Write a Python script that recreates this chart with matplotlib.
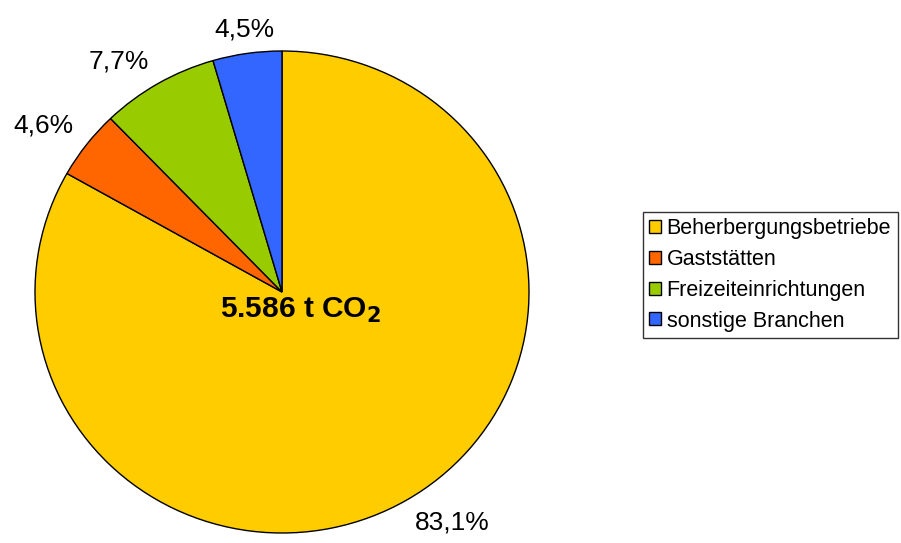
import numpy as np
import matplotlib
matplotlib.use("Agg")
import matplotlib.pyplot as plt

plt.rcParams['font.family'] = ['Liberation Sans', 'DejaVu Sans']

branchen = ["Beherbergungsbetriebe", "Gaststätten", "Freizeiteinrichtungen", "sonstige Branchen"]
anteile = [83.1, 4.6, 7.7, 4.5]
farben = ["#FFCC00", "#FF6600", "#99CC00", "#3366FF"]
gesamt = "5.586"

W, H = 901, 543
fig = plt.figure(figsize=(W / 100, H / 100), dpi=100)
# pie spans roughly x 35..529, y 51..533 px (slightly flattened, like the original)
left, right, top, bottom = 35, 529, 51, 533
ax = fig.add_axes([left / W, (H - bottom) / H, (right - left) / W, (bottom - top) / H])

wedges, _ = ax.pie(anteile, colors=farben, startangle=90, counterclock=False,
                   wedgeprops=dict(edgecolor="black", linewidth=1.0))
ax.set_aspect("auto")
ax.set_xlim(-1, 1)
ax.set_ylim(-1, 1)

# percentage labels outside, anchored at the corner nearest to the pie
for w, v in zip(wedges, anteile):
    ang = np.deg2rad((w.theta1 + w.theta2) / 2)
    x, y = 1.07 * np.cos(ang), 1.05 * np.sin(ang)
    if abs(np.cos(ang)) < 0.2:
        ha = "center"
    else:
        ha = "left" if x > 0 else "right"
    ax.text(x, y, f"{v:.1f}".replace(".", ",") + "%", fontsize=19,
            ha=ha, va="bottom" if y > 0 else "top")

ax.text(-0.25, -0.107, gesamt + r" t CO$_\mathbf{2}$", ha="left", va="baseline",
        fontsize=21.5, fontweight="bold")

leg = fig.legend(wedges, branchen, loc="upper left",
                 bbox_to_anchor=(643 / W, 1 - 212 / H), fontsize=15.5,
                 frameon=True, fancybox=False, edgecolor="black",
                 handlelength=0.55, handleheight=0.55, handletextpad=0.25,
                 labelspacing=0.45, borderpad=0.3, borderaxespad=0)
leg.get_frame().set_linewidth(1.0)

fig.savefig("out.png", dpi=100)
